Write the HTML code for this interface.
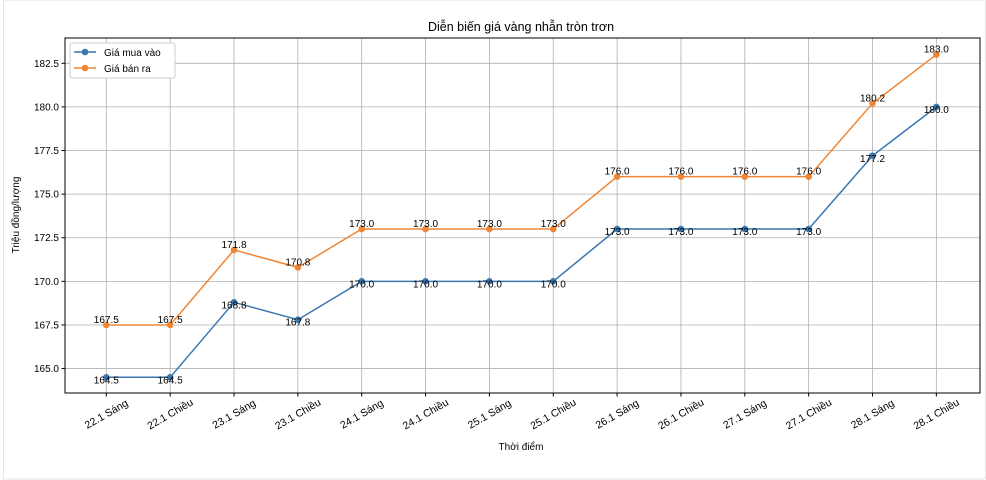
<!DOCTYPE html>
<html><head><meta charset="utf-8"><style>
body{margin:0;background:#fff;}
svg{display:block;font-family:"Liberation Sans","DejaVu Sans",sans-serif;}
</style></head><body>
<svg id="chart" width="986" height="480">
<rect x="3.5" y="0" width="982" height="479" fill="#fff" stroke="#e6e6e6"/>
<text x="521" y="31" font-size="12.5" text-anchor="middle" fill="#000">Diễn biến giá vàng nhẫn tròn trơn</text>
<g id="grid"></g><g id="axes"></g><g id="series"></g>
<text x="521" y="450" font-size="10" text-anchor="middle">Thời điểm</text>
<text transform="translate(19,215) rotate(-90)" font-size="10" text-anchor="middle">Triệu đồng/lượng</text>
<g>
<rect x="70" y="43" width="105" height="35" fill="#fff" stroke="#ccc" rx="2"/>
<line x1="74" y1="52" x2="96" y2="52" stroke="#3a76af" stroke-width="1.5"/><circle cx="85" cy="52" r="3.3" fill="#3a76af"/>
<text x="104" y="56" font-size="10">Giá mua vào</text>
<line x1="74" y1="68" x2="96" y2="68" stroke="#ef8636" stroke-width="1.5"/><circle cx="85" cy="68" r="3.3" fill="#ef8636"/>
<text x="104" y="72" font-size="10">Giá bán ra</text>
</g>
</svg>
<script>
const categories=["22.1 Sáng","22.1 Chiều","23.1 Sáng","23.1 Chiều","24.1 Sáng","24.1 Chiều","25.1 Sáng","25.1 Chiều","26.1 Sáng","26.1 Chiều","27.1 Sáng","27.1 Chiều","28.1 Sáng","28.1 Chiều"];
const buyValues=[164.5,164.5,168.8,167.8,170.0,170.0,170.0,170.0,173.0,173.0,173.0,173.0,177.2,180.0];
const sellValues=[167.5,167.5,171.8,170.8,173.0,173.0,173.0,173.0,176.0,176.0,176.0,176.0,180.2,183.0];
const yTicks=[165.0,167.5,170.0,172.5,175.0,177.5,180.0,182.5];
const NS="http://www.w3.org/2000/svg";
const L=65,R=980,T=38,B=393,yMin=163.6,yMax=183.95;
const X0=106.3,XS=63.85;
function xS(i){return X0+i*XS;}
function yS(v){return B-(v-yMin)/(yMax-yMin)*(B-T);}
function mk(tag,attrs,parent){const e=document.createElementNS(NS,tag);for(const k in attrs)e.setAttribute(k,attrs[k]);parent.appendChild(e);return e;}
const grid=document.getElementById('grid'),axes=document.getElementById('axes'),ser=document.getElementById('series');
yTicks.forEach(t=>{const y=yS(t);
const g=mk('line',{x1:L,x2:R,y1:y,y2:y,stroke:'#b0b0b0','stroke-width':0.8},grid);


mk('line',{x1:L-3.5,x2:L,y1:y,y2:y,stroke:'#000'},axes);
const tx=mk('text',{x:L-6,y:y+3.5,'font-size':10,'text-anchor':'end'},axes);tx.textContent=t.toFixed(1);


});
categories.forEach((c,i)=>{const x=xS(i);
const g=mk('line',{x1:x,x2:x,y1:T,y2:B,stroke:'#b0b0b0','stroke-width':0.8},grid);


mk('line',{x1:x,x2:x,y1:B,y2:B+3.5,stroke:'#000'},axes);
const cy=B+21;
const tx=mk('text',{x:x,y:cy+3.5,'font-size':10.5,'text-anchor':'middle',transform:`rotate(-30 ${x} ${cy})`},axes);tx.textContent=c;


});
mk('rect',{x:L,y:T,width:R-L,height:B-T,fill:'none',stroke:'#000','stroke-width':1},axes);
function drawSeries(vals,color,name,dy){
const pts=vals.map((v,i)=>xS(i)+','+yS(v)).join(' ');
const pl=mk('polyline',{points:pts,fill:'none',stroke:color,'stroke-width':1.5},ser);


vals.forEach((v,i)=>{
const c=mk('circle',{cx:xS(i),cy:yS(v),r:3.3,fill:color},ser);


});
vals.forEach((v,i)=>{
const t=mk('text',{x:xS(i),y:yS(v)+dy,'font-size':10,'text-anchor':'middle',fill:'#000'},ser);t.textContent=v.toFixed(1);


});
}
drawSeries(buyValues,'#3a76af','buy',6);
drawSeries(sellValues,'#ef8636','sell',-2);
</script>
</body></html>
